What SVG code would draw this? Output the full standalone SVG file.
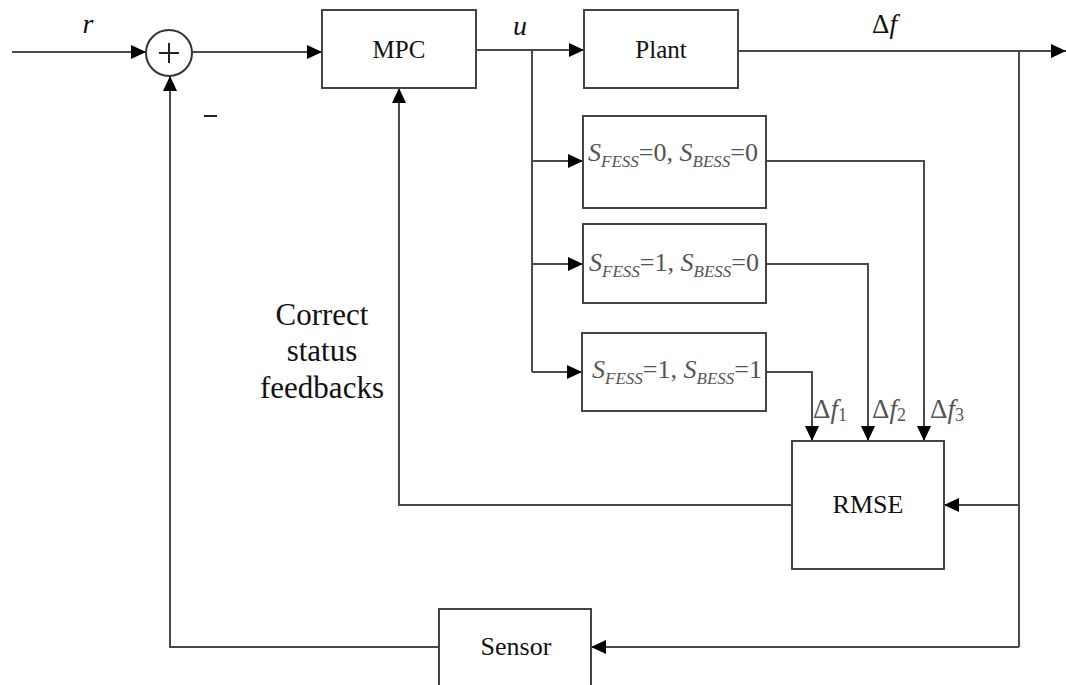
<svg xmlns="http://www.w3.org/2000/svg" width="1066" height="685" viewBox="0 0 1066 685">
<style>
.box{fill:#fff;stroke:#444;stroke-width:2}
.ln{fill:none;stroke:#4a4a4a;stroke-width:2}
text{font-family:'Liberation Serif','DejaVu Serif',serif}
.t{fill:#111}
.lbl{fill:#555}
.it{font-style:italic}
</style>
<defs>
<marker id="ah" markerUnits="userSpaceOnUse" markerWidth="15" markerHeight="14" refX="15" refY="7" orient="auto">
<path d="M0,0 L15,7 L0,14 Z" fill="#000"/>
</marker>
</defs>
<rect width="1066" height="685" fill="#fff"/>

<g id="connectors">
<path class="ln" d="M12,52 H146" marker-end="url(#ah)"/>
<path class="ln" d="M192,52 H322" marker-end="url(#ah)"/>
<path class="ln" d="M476,50 H584" marker-end="url(#ah)"/>
<path class="ln" d="M738,51 H1066" marker-end="url(#ah)"/>
<path class="ln" d="M532,50 V372"/>
<path class="ln" d="M532,161 H583" marker-end="url(#ah)"/>
<path class="ln" d="M532,264 H583" marker-end="url(#ah)"/>
<path class="ln" d="M532,372 H582" marker-end="url(#ah)"/>
<path class="ln" d="M766,161 H924 V441" marker-end="url(#ah)"/>
<path class="ln" d="M766,264 H868 V441" marker-end="url(#ah)"/>
<path class="ln" d="M766,372 H812 V441" marker-end="url(#ah)"/>
<path class="ln" d="M1019,51 V647"/>
<path class="ln" d="M1019,505 H944" marker-end="url(#ah)"/>
<path class="ln" d="M1019,647 H591" marker-end="url(#ah)"/>
<path class="ln" d="M439,647 H170 V76" marker-end="url(#ah)"/>
<path class="ln" d="M792,505 H399 V88" marker-end="url(#ah)"/>
</g>

<g id="sum">
<circle cx="169" cy="53" r="23" fill="#fff" stroke="#333" stroke-width="2"/>
<path d="M159,53 H179 M169,43 V63" stroke="#222" stroke-width="2"/>
</g>

<g id="mpc">
<rect class="box" x="322" y="10" width="154" height="78"/>
<text class="t" x="399" y="58" font-size="25" text-anchor="middle">MPC</text>
</g>

<g id="plant">
<rect class="box" x="584" y="10" width="154" height="78"/>
<text class="t" x="661" y="58" font-size="25" text-anchor="middle">Plant</text>
</g>

<g id="model1">
<rect class="box" x="583" y="116" width="183" height="92"/>
<text class="lbl" x="673" y="161" font-size="26" text-anchor="middle"><tspan class="it">S</tspan><tspan class="it" font-size="17" dy="6">FESS</tspan><tspan dy="-6">=0, </tspan><tspan class="it">S</tspan><tspan class="it" font-size="17" dy="6">BESS</tspan><tspan dy="-6">=0</tspan></text>
</g>

<g id="model2">
<rect class="box" x="583" y="224" width="183" height="79"/>
<text class="lbl" x="674" y="271" font-size="26" text-anchor="middle"><tspan class="it">S</tspan><tspan class="it" font-size="17" dy="6">FESS</tspan><tspan dy="-6">=1, </tspan><tspan class="it">S</tspan><tspan class="it" font-size="17" dy="6">BESS</tspan><tspan dy="-6">=0</tspan></text>
</g>

<g id="model3">
<rect class="box" x="582" y="333" width="184" height="78"/>
<text class="lbl" x="677" y="378" font-size="26" text-anchor="middle"><tspan class="it">S</tspan><tspan class="it" font-size="17" dy="6">FESS</tspan><tspan dy="-6">=1, </tspan><tspan class="it">S</tspan><tspan class="it" font-size="17" dy="6">BESS</tspan><tspan dy="-6">=1</tspan></text>
</g>

<g id="rmse">
<rect class="box" x="792" y="441" width="152" height="128"/>
<text class="t" x="868" y="513" font-size="26" text-anchor="middle">RMSE</text>
</g>

<g id="sensor">
<rect class="box" x="439" y="609" width="152" height="90"/>
<text class="t" x="516" y="655" font-size="26" text-anchor="middle">Sensor</text>
</g>

<g id="labels">
<text class="t it" x="88" y="33" font-size="28" text-anchor="middle">r</text>
<path d="M204,116 H217" stroke="#222" stroke-width="2"/>
<text class="t it" x="520" y="35" font-size="28" text-anchor="middle">u</text>
<text class="t" x="872" y="33" font-size="27">Δ<tspan class="it">f</tspan></text>
<text class="lbl" x="813" y="418" font-size="27">Δ<tspan class="it">f</tspan><tspan font-size="18" dy="3">1</tspan></text>
<text class="lbl" x="872" y="418" font-size="27">Δ<tspan class="it">f</tspan><tspan font-size="18" dy="3">2</tspan></text>
<text class="lbl" x="930" y="418" font-size="27">Δ<tspan class="it">f</tspan><tspan font-size="18" dy="3">3</tspan></text>
<text class="t" x="322" y="325" font-size="31" text-anchor="middle">Correct</text>
<text class="t" x="322" y="361" font-size="31" text-anchor="middle">status</text>
<text class="t" x="322" y="398" font-size="31" text-anchor="middle">feedbacks</text>
</g>
</svg>
